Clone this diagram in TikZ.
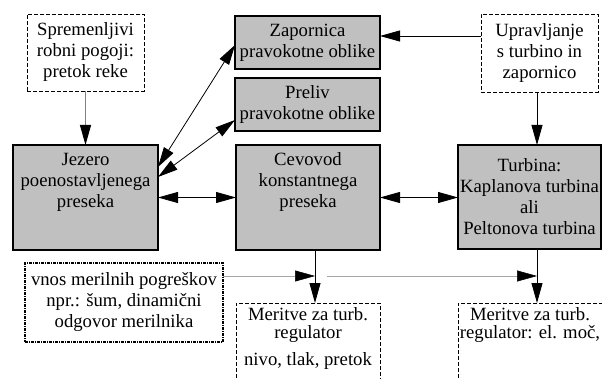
\documentclass[tikz,border=0pt]{standalone}
\usepackage{fontspec}
\setmainfont{Liberation Serif}
\usepackage{tikz}
\usetikzlibrary{positioning}
\usetikzlibrary{arrows.meta}
\tikzset{>={Triangle[length=20pt,width=11pt]}}
\definecolor{boxgray}{HTML}{C0C0C0}

\begin{document}
\begin{tikzpicture}[x=1pt, y=-1pt, inner sep=0pt, outer sep=0pt,
  every node/.style={font=\fontsize{18.7}{21}\selectfont, align=center},
  gbox/.style={draw, line width=1.2pt, fill=boxgray},
  dbox/.style={draw, line width=0.7pt, dash pattern=on 4pt off 2pt},
  vbox/.style={draw, line width=1.5pt, dash pattern=on 3pt off 1pt on 1pt off 1pt},
  arr/.style={->, line width=0.8pt},
  darr/.style={<->, line width=0.8pt},
  garr/.style={-{Triangle[length=20pt,width=11pt,color=black]}, draw=gray, line width=1.2pt},
  larr/.style={-{Triangle[length=20pt,width=11pt,color=black]}, draw=black!35, line width=0.5pt}]
\useasboundingbox (0,0) rectangle (602,379);
\node[dbox, minimum width=117pt, minimum height=77pt] (spr) at (85.5,52.5) {Spremenljivi\\robni pogoji:\\pretok reke};
\node[gbox, minimum width=145pt, minimum height=53pt] (zap) at (307.5,42.5) {Zapornica\\pravokotne oblike};
\node[gbox, minimum width=145pt, minimum height=53pt] (prel) at (307.5,104.5) {Preliv\\pravokotne oblike};
\node[dbox, minimum width=117pt, minimum height=78pt] (upr) at (539.5,53) {Upravljanje\\s turbino in\\zapornico};
\node[gbox, minimum width=145pt, minimum height=105pt] (jez) at (85.5,197.5) {};
\node[below=8pt of jez.north] (jezt) {Jezero\\poenostavljenega\\preseka};
\node[gbox, minimum width=144pt, minimum height=105pt] (cev) at (308,197.5) {};
\node[below=8pt of cev.north] (cevt) {Cevovod\\konstantnega\\preseka};
\node[gbox, minimum width=143pt, minimum height=104pt] (turb) at (529.5,197) {Turbina:\\Kaplanova turbina\\ali\\Peltonova turbina};
\node[vbox, minimum width=198pt, minimum height=79pt] (vnos) at (124,302.5) {vnos merilnih pogreškov\\npr.: šum, dinamični\\odgovor merilnika};
\node[dbox, minimum width=144pt, minimum height=97pt] (mer1) at (308,351.5) {};
\node[below=5pt of mer1.north] (mer1t) {Meritve za turb.\\[-3pt]regulator\\[6pt]nivo, tlak, pretok};
\node[dbox, minimum width=144pt, minimum height=97pt] (mer2) at (530,351.5) {};
\node[below=5pt of mer2.north] (mer2t) {Meritve za turb.\\[-3pt]regulator: el. moč,};
\coordinate (m1) at ([xshift=7pt]cev.south);
\coordinate (t1) at ([xshift=7.5pt]turb.south);
\coordinate (err) at ([yshift=26.5pt]vnos.east);
\draw[garr] (spr) -- (jez);
\draw[arr] ([yshift=17pt]upr.west) -- ([yshift=6.5pt]zap.east);
\draw[arr] ([xshift=-2.5pt]upr.south) -- ([xshift=7.5pt]turb.north);
\draw[darr] ([yshift=-22pt]jez.north east) -- ([yshift=-2.5pt]zap.west);
\draw[darr] ([yshift=-32pt]jez.north east) -- ([yshift=-15.5pt]prel.west);
\draw[darr] (jez) -- (cev);
\draw[darr] (cev.east) -- (cev.east -| turb.west);
\draw[arr] (m1) -- (m1 |- mer1.north);
\draw[arr] (t1) -- (t1 |- mer2.north);
\draw[larr] (err) -- (err -| m1);
\draw[larr] ([xshift=12pt]err -| m1) -- (err -| t1);
\end{tikzpicture}
\end{document}
